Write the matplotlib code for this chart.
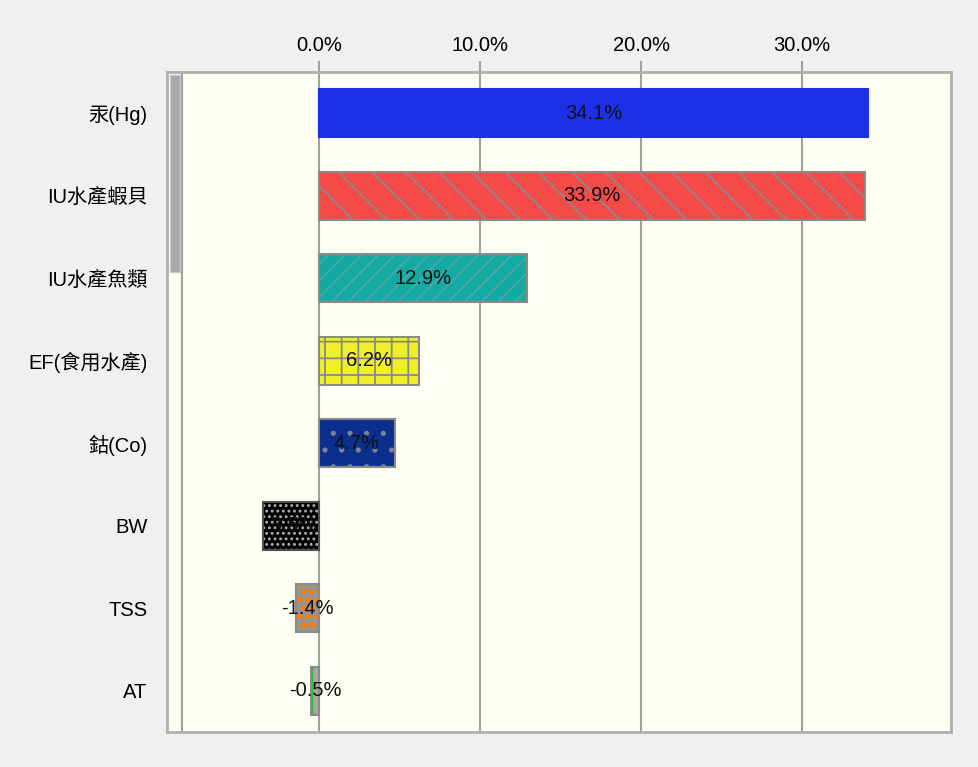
import matplotlib
matplotlib.use("Agg")
import matplotlib.pyplot as plt
from matplotlib.patches import Rectangle

plt.rcParams['font.family'] = ['Liberation Sans', 'Noto Sans CJK TC', 'DejaVu Sans']
plt.rcParams['hatch.linewidth'] = 1.3

# 各因子對結果的貢獻 (%)
categories = ["汞(Hg)", "IU水產蝦貝", "IU水產魚類", "EF(食用水產)", "鈷(Co)", "BW", "TSS", "AT"]
values = [34.1, 33.9, 12.9, 6.2, 4.7, -3.5, -1.4, -0.5]
tick_values = [0, 10, 20, 30]

face_colors = ["#1b30e8", "#f44a48", "#14aaa4", "#f0f02a", "#0a2f8c", "#000000", "#959595", "#a8a8a8"]
hatch_colors = ["#1b30e8", "#8a8a8a", "#4fa8a0", "#8a8a8a", "#7a80a0", "#b0b0b0", "#ff7a00", "#30c030"]
hatches = [None, "\\", "//", "+", ".", "...", "oo", "||"]
edge_colors = ["#1b30e8", "#8a8a8a", "#8a8a8a", "#8a8a8a", "#8a8a8a", "#505050", "#8a8a8a", "#8a8a8a"]

fig = plt.figure(figsize=(9.79, 7.67), dpi=100, facecolor="#f0f0f0")
ax = fig.add_axes([0.1706, 0.0456, 0.8008, 0.8605])
ax.set_facecolor("#fffff3")

y = range(len(categories))
bar_h = 0.58
for i, v in enumerate(values):
    ax.barh(i, v, height=bar_h, color=face_colors[i], hatch=hatches[i],
            edgecolor=hatch_colors[i], linewidth=0, zorder=3)
    ax.barh(i, v, height=bar_h, fill=False, edgecolor=edge_colors[i],
            linewidth=1.5, zorder=4)
    ax.text(v / 2, i, f"{v:.1f}%", ha="center", va="center",
            fontsize=14.5, color="#111111", zorder=5)

ax.set_yticks(list(y))
ax.set_yticklabels(categories, fontsize=14.5)
ax.set_ylim(len(categories) - 0.5, -0.5)
ax.set_xlim(-9.44, 39.25)

ax.xaxis.tick_top()
ax.set_xticks(tick_values)
ax.set_xticklabels([f"{t:.1f}%" for t in tick_values], fontsize=14.5)
ax.tick_params(axis="x", length=8, width=1.5, color="#a0a0a0", pad=4)
ax.tick_params(axis="y", length=0, pad=14)
ax.grid(axis="x", color="#a0a0a0", linewidth=1.5, zorder=1)
ax.set_axisbelow(True)

for s in ax.spines.values():
    s.set_color("#b0b0b0")
    s.set_linewidth(2)

# scrollbar strip on the left edge of the plot area
ax.add_patch(Rectangle((0.004, 0.697), 0.013, 0.298, transform=ax.transAxes,
                       facecolor="#a8a8a8", edgecolor="#c8c8c8", linewidth=1, zorder=6))
ax.axvline(-8.5, color="#a0a0a0", linewidth=1.5, zorder=2)

fig.savefig("out.png", dpi=100, facecolor=fig.get_facecolor())
